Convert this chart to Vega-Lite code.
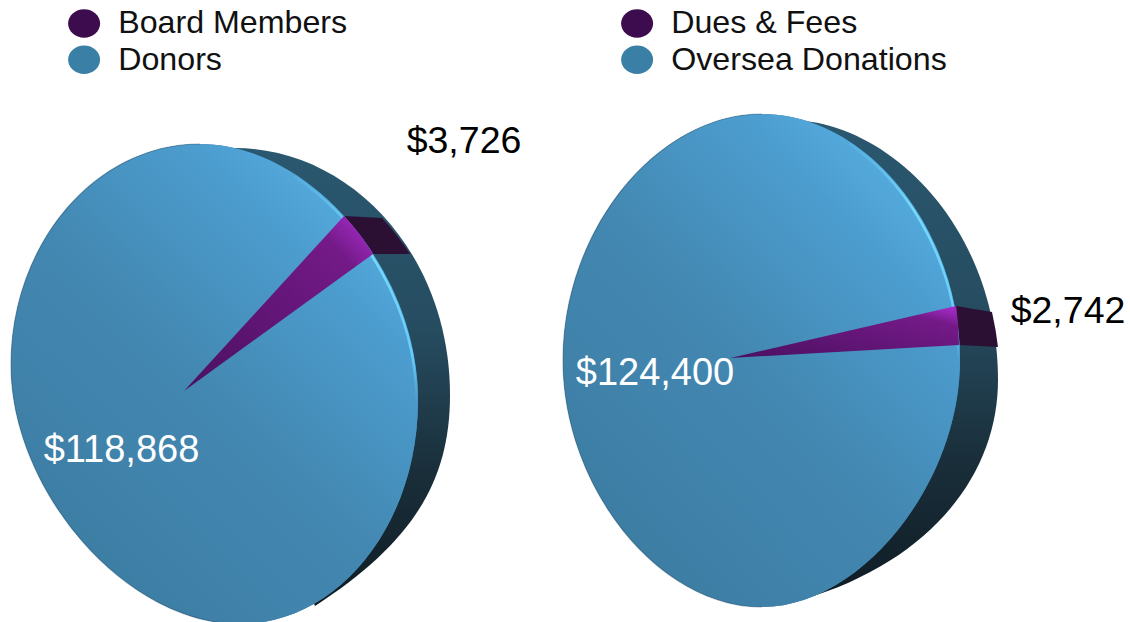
{
"$schema":"https://vega.github.io/schema/vega-lite/v6.json",
"width":1130,"height":622,"padding":0,"autosize":{"type":"none"},
"background":"white",
"config":{"view":{"stroke":null},"font":"Liberation Sans"},
"data":{"values":[
{"pie":"Left","category":"Board Members","kind":"minor","value":3726,"label":"$3,726"},
{"pie":"Left","category":"Donors","kind":"major","value":118868,"label":"$118,868"},
{"pie":"Right","category":"Dues & Fees","kind":"minor","value":2742,"label":"$2,742"},
{"pie":"Right","category":"Oversea Donations","kind":"major","value":124400,"label":"$124,400"}
]},
"encoding":{
"x":{"field":"pie","type":"nominal","axis":null,"scale":{"type":"point","padding":0,"domain":["Left","Right"],"range":[215,761]}},
"y":{"field":"pie","type":"nominal","axis":null,"scale":{"type":"point","padding":0,"domain":["Left","Right"],"range":[384,360]}}
},
"layer":[
{"transform":[{"filter":"datum.kind==='major'"}],
"mark":{"type":"point","filled":true,"size":4,"opacity":1,"strokeWidth":0,"fill":{"gradient":"linear","x1":0,"y1":0,"x2":0,"y2":1,"stops":[{"offset":0,"color":"#2a5870"},{"offset":0.4,"color":"#264c60"},{"offset":0.7,"color":"#1a2f3b"},{"offset":1,"color":"#0f1c24"}]}},
"encoding":{"shape":{"field":"pie","type":"nominal","legend":null,"scale":{"domain":["Left","Right"],"range":[
"M20,-236C135,-236 235,-130 235,11C235,100 195,160 100,222L0,0Z",
"M30,-240C130,-238 237,-130 237,20C237,110 175,200 40,240L0,0Z"]}}}},
{"transform":[{"filter":"datum.kind==='minor'"}],
"mark":{"type":"point","filled":true,"size":4,"opacity":1,"strokeWidth":0,"fill":"#2c1033"},
"encoding":{"shape":{"field":"pie","type":"nominal","legend":null,"scale":{"domain":["Left","Right"],"range":[
"M129,-168L167,-166Q182,-150 195,-130L158,-130Z",
"M195,-54L231,-48Q235,-30 237,-13L198,-15Z"]}}}},
{"mark":{"type":"point","filled":true,"size":4,"opacity":1,"strokeWidth":0},
"encoding":{
"color":{"field":"category","type":"nominal","scale":{"domain":["Board Members","Donors","Dues & Fees","Oversea Donations"],"range":["#3d0c4e","#3a7fa6","#3d0c4e","#3a7fa6"]},
"legend":{"title":null,"orient":"none","legendX":68,"legendY":7,"columns":2,"columnPadding":273,"rowPadding":3.6,"gridAlign":"each","symbolType":"M-1,0A1 0.89 0 1 1 1,0A1 0.89 0 1 1 -1,0Z","symbolSize":1024,"symbolStrokeWidth":0,"symbolOpacity":1,"labelFontSize":32.2,"labelFont":"Liberation Sans","labelColor":"#111111","labelLimit":400,"labelOffset":18}},
"shape":{"field":"category","type":"nominal","legend":null,"scale":{"domain":["Board Members","Donors","Dues & Fees","Oversea Donations"],"range":[
"M-31,7L129,-168Q146,-150 158,-130Z",
"M-15,-240C95,-240 203,-114 203,16C203,142 122,240 25,240C-90,240 -204,106 -204,-19C-204,-141 -119,-240 -15,-240Z",
"M-31,-2L195,-54Q198,-35 198,-15Z",
"M1,-246C106,-246 199,-130 199,0C199,123 100,247 1,247C-102,247 -198,128 -198,0C-198,-130 -104,-246 1,-246Z"]}}}},
{"transform":[{"filter":"datum.kind==='major'"}],
"mark":{"type":"point","filled":true,"size":4,"opacity":1,"strokeWidth":0,"fill":{"gradient":"linear","x1":0.1,"y1":1,"x2":0.9,"y2":0.05,"stops":[{"offset":0,"color":"#3b7aa0"},{"offset":0.5,"color":"#4388b2"},{"offset":0.8,"color":"#4c9dcf"},{"offset":1,"color":"#5ab3e6"}]}},
"encoding":{"shape":{"field":"pie","type":"nominal","legend":null,"scale":{"domain":["Left","Right"],"range":[
"M-15,-240C95,-240 203,-114 203,16C203,142 122,240 25,240C-90,240 -204,106 -204,-19C-204,-141 -119,-240 -15,-240Z",
"M1,-246C106,-246 199,-130 199,0C199,123 100,247 1,247C-102,247 -198,128 -198,0C-198,-130 -104,-246 1,-246Z"]}}}},
{"transform":[{"filter":"datum.kind==='major'"}],
"mark":{"type":"point","filled":false,"size":4,"strokeWidth":2.5,"fillOpacity":0,"opacity":1,"stroke":{"gradient":"linear","x1":0,"y1":0,"x2":0,"y2":1,"stops":[{"offset":0,"color":"rgba(108,211,255,0.15)"},{"offset":0.3,"color":"rgba(122,222,255,0.95)"},{"offset":0.8,"color":"rgba(108,211,255,0.85)"},{"offset":1,"color":"rgba(108,211,255,0)"}]}},
"encoding":{"shape":{"field":"pie","type":"nominal","legend":null,"scale":{"domain":["Left","Right"],"range":[
"M79.1,-207.8C148.6,-162.5 201.5,-73.5 201.5,17.5",
"M88.5,-216C151.9,-173.7 197.5,-89.5 197.5,1.5"]}}}},
{"transform":[{"filter":"datum.kind==='major'"}],
"mark":{"type":"point","filled":false,"size":4,"strokeWidth":1.2,"fillOpacity":0,"opacity":0.4,"stroke":"#2a5068"},
"encoding":{"shape":{"field":"pie","type":"nominal","legend":null,"scale":{"domain":["Left","Right"],"range":[
"M25,240C-90,240 -204,106 -204,-19C-204,-141 -119,-240 -15,-240",
"M1,247C-102,247 -198,128 -198,0C-198,-130 -104,-246 1,-246"]}}}},
{"transform":[{"filter":"datum.kind==='minor'"}],
"mark":{"type":"point","filled":true,"size":4,"opacity":1,"strokeWidth":0,"fill":{"gradient":"linear","x1":0,"y1":1,"x2":1,"y2":0.1,"stops":[{"offset":0,"color":"#4a1060"},{"offset":0.85,"color":"#741a88"},{"offset":1,"color":"#a02ac2"}]}},
"encoding":{"shape":{"field":"pie","type":"nominal","legend":null,"scale":{"domain":["Left","Right"],"range":[
"M-31,7L129,-168Q146,-150 158,-130Z",
"M-31,-2L195,-54Q198,-35 198,-15Z"]}}}},
{"transform":[{"filter":"datum.kind==='major'"}],
"mark":{"type":"text","fontSize":38,"font":"Liberation Sans","color":"#ffffff","align":"center","baseline":"middle"},
"encoding":{"text":{"field":"label"},
"x":{"field":"category","type":"nominal","axis":null,"scale":{"type":"point","padding":0,"domain":["Donors","Oversea Donations"],"range":[121.5,655]}},
"y":{"field":"category","type":"nominal","axis":null,"scale":{"type":"point","padding":0,"domain":["Donors","Oversea Donations"],"range":[451,374]}}}},
{"transform":[{"filter":"datum.kind==='minor'"}],
"mark":{"type":"text","fontSize":37.5,"font":"Liberation Sans","color":"#000000","align":"center","baseline":"middle"},
"encoding":{"text":{"field":"label"},
"x":{"field":"category","type":"nominal","axis":null,"scale":{"type":"point","padding":0,"domain":["Board Members","Dues & Fees"],"range":[464,1068]}},
"y":{"field":"category","type":"nominal","axis":null,"scale":{"type":"point","padding":0,"domain":["Board Members","Dues & Fees"],"range":[142,312]}}}}
],
"resolve":{"scale":{"x":"independent","y":"independent","shape":"independent"}}
}
